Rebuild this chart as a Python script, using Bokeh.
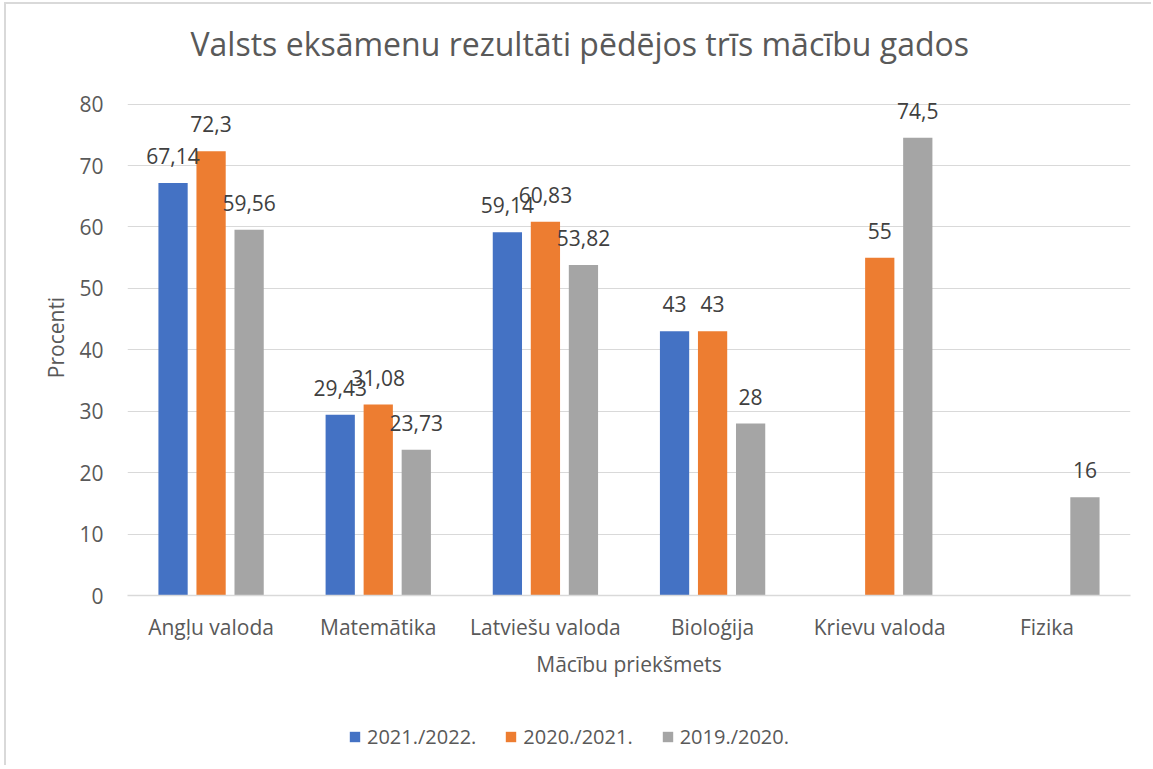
from bokeh.plotting import figure
from bokeh.layouts import column
from bokeh.models import FactorRange, Range1d, ColumnDataSource, Legend, LegendItem, FixedTicker, LabelSet, Title
from bokeh.transform import dodge
from bokeh.core.properties import value
from bokeh.embed import file_html
from bokeh.resources import INLINE

categories = ["Angļu valoda", "Matemātika", "Latviešu valoda", "Bioloģija", "Krievu valoda", "Fizika"]
series_names = ["2021./2022.", "2020./2021.", "2019./2020."]
vals_2122 = [67.14, 29.43, 59.14, 43, None, None]
vals_2021 = [72.3, 31.08, 60.83, 43, 55, None]
vals_1920 = [59.56, 23.73, 53.82, 28, 74.5, 16]
colors = ["#4472C4", "#ED7D31", "#A5A5A5"]
y_ticks = [0, 10, 20, 30, 40, 50, 60, 70, 80]

FONT = "Open Sans"
TXT = "#595959"
W = 1145

# y range slightly above 80 so the top data label is not clipped
p = figure(x_range=FactorRange(*categories, range_padding=0), y_range=Range1d(0, 84),
           width=W, height=691, output_backend="svg", toolbar_location=None,
           min_border_left=121, min_border_right=21, min_border_top=73, min_border_bottom=100)
p.x_range.factor_padding = 0

title = Title(text="Valsts eksāmenu rezultāti pēdējos trīs mācību gados", align="left",
              text_font=FONT, text_font_size="32px", text_font_style="normal",
              text_color=TXT, standoff=30, offset=63)
p.add_layout(title, "above")

offsets = [-0.2275, 0.0, 0.2275]
for vals, name, col, off in zip([vals_2122, vals_2021, vals_1920], series_names, colors, offsets):
    xs = [c for c, v in zip(categories, vals) if v is not None]
    ys = [v for v in vals if v is not None]
    labels = [f"{v:g}".replace(".", ",") for v in ys]
    src = ColumnDataSource(dict(x=xs, y=ys, lab=labels))
    p.vbar(x=dodge("x", off, range=p.x_range), top="y", width=0.175, source=src,
           fill_color=col, line_color=None)
    ls = LabelSet(x=dodge("x", off, range=p.x_range), y="y", text="lab", source=src,
                  text_align="center", text_baseline="middle", y_offset=27,
                  text_font=value(FONT), text_font_size=value("21px"), text_color="#404040")
    p.add_layout(ls)

p.yaxis.ticker = FixedTicker(ticks=y_ticks)
p.yaxis.axis_line_color = None
p.yaxis.major_tick_line_color = None
p.yaxis.minor_tick_line_color = None
p.yaxis.major_label_text_font = FONT
p.yaxis.major_label_text_font_size = "21px"
p.yaxis.major_label_text_color = TXT
p.yaxis.major_label_standoff = 18
p.yaxis.axis_label = "Procenti"
p.yaxis.axis_label_text_font = FONT
p.yaxis.axis_label_text_font_size = "21px"
p.yaxis.axis_label_text_font_style = "normal"
p.yaxis.axis_label_text_color = TXT
p.yaxis.axis_label_standoff = 6

p.xaxis.axis_line_color = "#d9d9d9"
p.xaxis.axis_line_width = 1.5
p.xaxis.major_tick_line_color = None
p.xaxis.minor_tick_line_color = None
p.xaxis.major_label_text_font = FONT
p.xaxis.major_label_text_font_size = "21px"
p.xaxis.major_label_text_color = TXT
p.xaxis.major_label_standoff = 11
p.xaxis.axis_label = "Mācību priekšmets"
p.xaxis.axis_label_text_font = FONT
p.xaxis.axis_label_text_font_size = "21px"
p.xaxis.axis_label_text_font_style = "normal"
p.xaxis.axis_label_text_color = TXT
p.xaxis.axis_label_standoff = 6

p.xgrid.grid_line_color = None
p.ygrid.grid_line_color = "#d9d9d9"
p.ygrid.grid_line_width = 1.2
p.outline_line_color = None

# legend strip below the chart
lf = figure(width=W, height=70, output_backend="svg", toolbar_location=None,
            x_range=Range1d(0, 1), y_range=Range1d(0, 1), x_axis_type=None, y_axis_type=None,
            min_border=0)
lf.outline_line_color = None
lf.xgrid.visible = False
lf.ygrid.visible = False
items = []
for name, col in zip(series_names, colors):
    r = lf.vbar(x=[0.5], top=[0], bottom=[0], width=0.0, fill_color=col, line_color=None)
    items.append(LegendItem(label=name, renderers=[r]))
legend = Legend(items=items, orientation="horizontal", location=(221, 15),
                glyph_width=13, glyph_height=13, label_standoff=6, spacing=28,
                padding=0, margin=0, border_line_color=None, background_fill_alpha=0,
                label_text_font=FONT, label_text_font_size="20px", label_text_color=TXT)
lf.add_layout(legend, "center")

layout = column(p, lf, spacing=0)
layout.styles = {"border-left": "2px solid #d9d9d9", "border-top": "2px solid #d9d9d9",
                 "margin-left": "4px", "margin-top": "2px"}

open("out.html", "w").write(file_html(layout, INLINE))
